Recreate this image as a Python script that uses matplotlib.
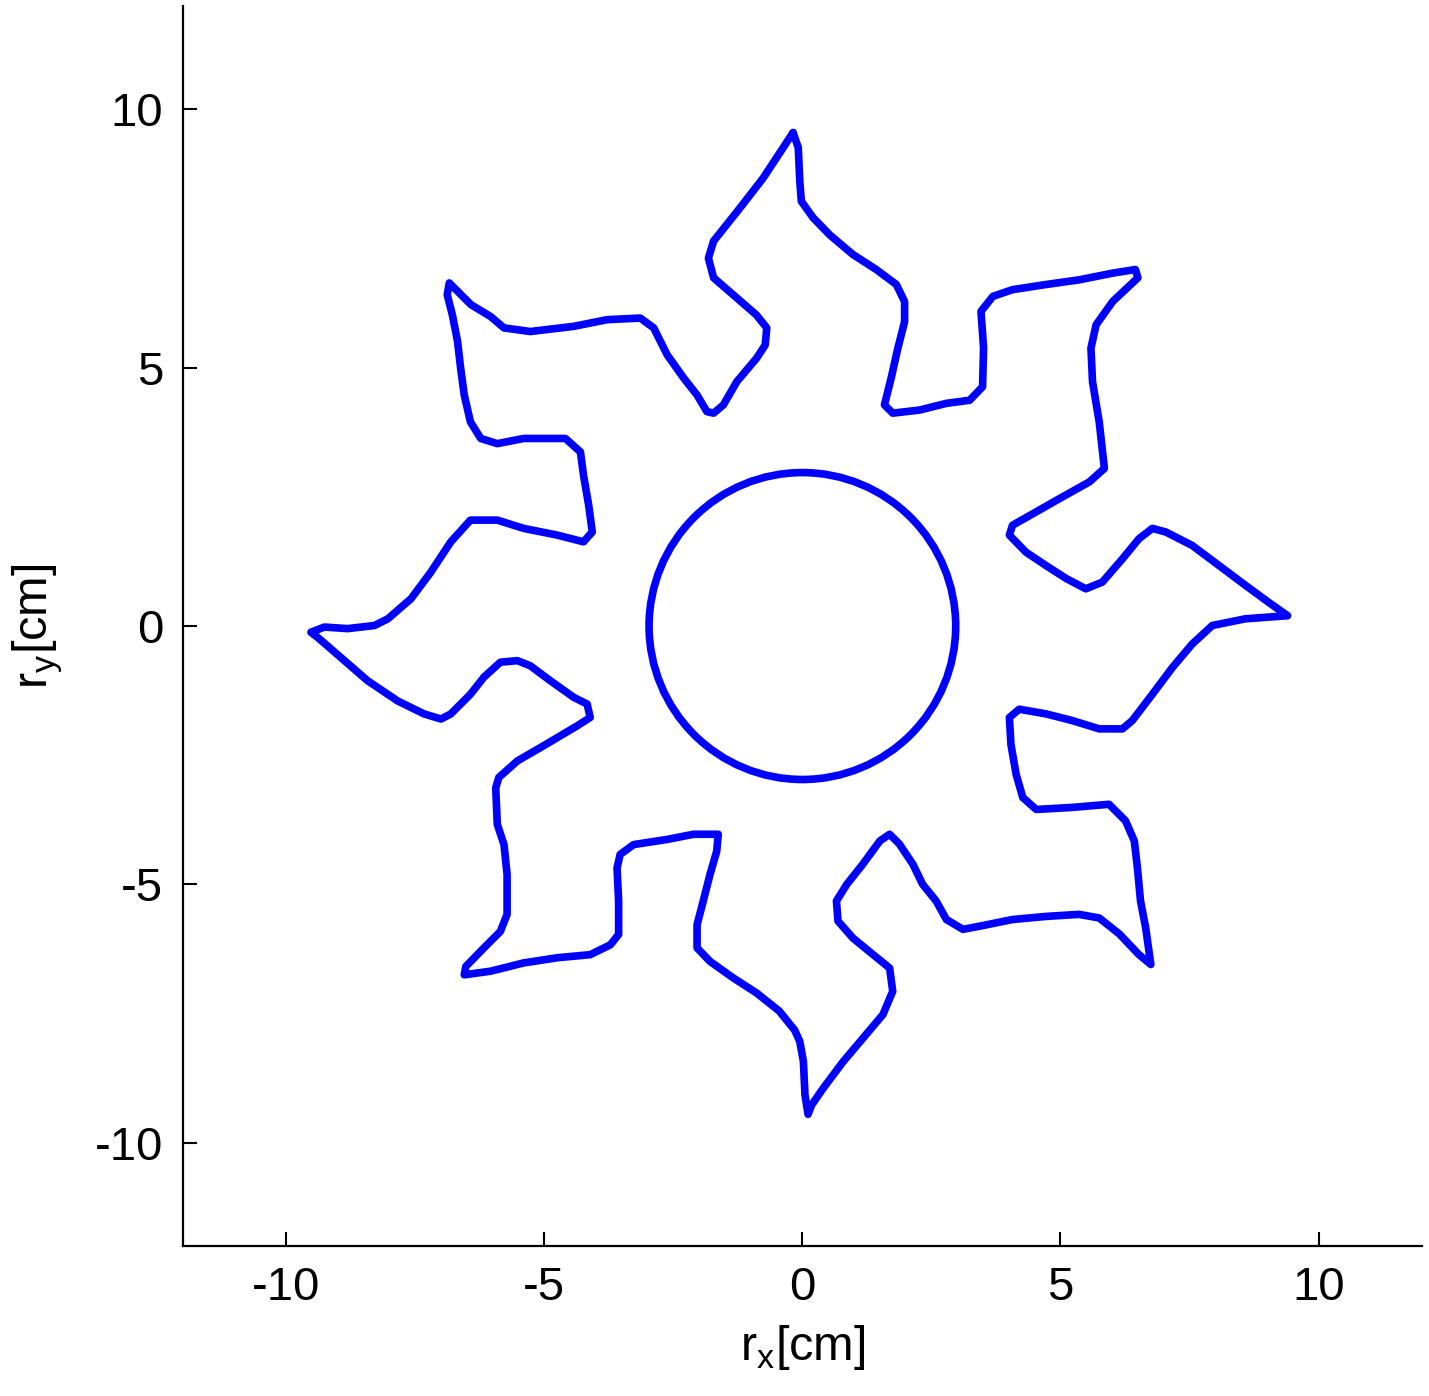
import matplotlib
matplotlib.use("Agg")
import matplotlib.pyplot as plt
from matplotlib.patches import Circle

plt.rcParams['font.family'] = ['Liberation Sans', 'DejaVu Sans']

# outer trajectory (clockwise from the top tip), cm
traj_x = [-0.18, -0.08, -0.05, -0.02, 0.21, 0.53, 0.98, 1.43, 1.82, 1.98, 1.98, 1.85, 1.72, 1.59, 1.75,
          2.27, 2.79, 3.24, 3.49, 3.51, 3.46, 3.69, 4.07, 4.72, 5.36, 6.01, 6.45, 6.50, 6.01, 5.69,
          5.59, 5.62, 5.75, 5.85, 5.56, 5.04, 4.53, 4.07, 4.01, 4.33, 4.72, 5.11, 5.49, 5.81, 6.20,
          6.52, 6.78, 7.04, 7.55, 8.07, 8.58, 9.03, 9.40,
          8.58, 7.94, 7.55, 7.17, 6.78, 6.39, 6.20, 5.75, 5.23, 4.72, 4.20, 4.01, 4.04, 4.14, 4.27,
          4.53, 5.23, 5.94, 6.26, 6.43, 6.49, 6.55, 6.65, 6.75, 6.52, 6.14, 5.75, 5.36, 4.72, 4.07,
          3.43, 3.11, 2.79, 2.59, 2.33, 2.14, 1.88, 1.69, 1.50, 1.17, 0.86, 0.66, 0.69, 0.98, 1.37,
          1.69, 1.75, 1.56, 1.17, 0.79, 0.40, 0.18, 0.11, 0.05, 0.02, -0.05, -0.15, -0.45,
          -0.89, -1.34, -1.79, -2.04, -2.04, -1.92, -1.79, -1.66, -1.63, -2.11, -2.62, -3.27, -3.53,
          -3.59, -3.56, -3.56, -3.72, -4.11, -4.75, -5.40, -6.04, -6.55, -6.52, -6.17, -5.85, -5.72,
          -5.72, -5.78, -5.91, -5.94, -5.88, -5.52, -5.07, -4.75, -4.36, -4.11, -4.17, -4.43, -4.88,
          -5.27, -5.52, -5.85, -6.17, -6.43, -6.81, -7.00, -7.33, -7.84, -8.42, -8.94, -9.39, -9.52,
          -9.26, -8.81, -8.29, -8.03, -7.58, -7.20, -6.81, -6.43, -5.91, -5.40, -4.75, -4.24, -4.07,
          -4.14, -4.24, -4.30, -4.59, -5.40, -5.91, -6.23, -6.43, -6.55, -6.62, -6.68, -6.78, -6.88,
          -6.84, -6.42, -6.04, -5.78, -5.27, -4.43, -3.78, -3.14, -2.88, -2.62, -2.30, -2.04, -1.85,
          -1.72, -1.53, -1.27, -0.89, -0.72, -0.69, -0.89, -1.34, -1.72, -1.82, -1.72, -1.21, -0.76,
          -0.37, -0.18]
traj_y = [9.55, 9.26, 8.61, 8.22, 7.90, 7.57, 7.19, 6.90, 6.61, 6.28, 5.89, 5.38, 4.80, 4.28, 4.12,
          4.18, 4.31, 4.37, 4.63, 5.38, 6.09, 6.38, 6.51, 6.61, 6.70, 6.83, 6.90, 6.74, 6.28, 5.83,
          5.38, 4.73, 3.95, 3.05, 2.79, 2.50, 2.21, 1.95, 1.76, 1.43, 1.17, 0.92, 0.72, 0.85, 1.30,
          1.69, 1.89, 1.82, 1.56, 1.17, 0.79, 0.46, 0.20,
          0.14, 0.01, -0.35, -0.80, -1.32, -1.83, -1.99, -1.99, -1.83, -1.70, -1.61, -1.77, -2.29, -2.87, -3.32,
          -3.55, -3.51, -3.45, -3.77, -4.16, -4.68, -5.32, -5.84, -6.55, -6.36, -5.96, -5.65, -5.58, -5.62, -5.68,
          -5.81, -5.87, -5.68, -5.32, -5.00, -4.61, -4.22, -4.03, -4.16, -4.61, -5.00, -5.32, -5.71, -6.04, -6.36,
          -6.62, -7.07, -7.52, -7.98, -8.43, -8.95, -9.27, -9.45, -9.07, -8.43, -8.04, -7.82, -7.45,
          -7.10, -6.81, -6.49, -6.23, -5.78, -5.32, -4.81, -4.36, -4.03, -4.03, -4.13, -4.23, -4.42,
          -4.68, -5.32, -5.97, -6.17, -6.36, -6.42, -6.52, -6.68, -6.75, -6.59, -6.23, -5.91, -5.58,
          -4.81, -4.23, -3.84, -3.13, -2.93, -2.61, -2.35, -2.16, -1.93, -1.77, -1.51, -1.38, -1.06,
          -0.77, -0.67, -0.70, -0.99, -1.32, -1.70, -1.80, -1.70, -1.45, -1.06, -0.61, -0.22, -0.12,
          -0.02, -0.05, 0.01, 0.14, 0.53, 1.04, 1.63, 2.05, 2.05, 1.89, 1.76, 1.63, 1.82,
          2.34, 2.92, 3.37, 3.63, 3.63, 3.53, 3.63, 3.95, 4.47, 4.99, 5.51, 6.02, 6.41,
          6.64, 6.22, 5.99, 5.77, 5.70, 5.80, 5.93, 5.96, 5.77, 5.25, 4.80, 4.47, 4.15,
          4.12, 4.28, 4.73, 5.18, 5.44, 5.77, 6.02, 6.41, 6.74, 7.12, 7.45, 8.09, 8.67,
          9.26, 9.55]

# inner circle
circle_center = (0.0, 0.0)
circle_radius = 2.97

xticks = [-10, -5, 0, 5, 10]
yticks = [-10, -5, 0, 5, 10]
xlim = (-12, 12)
ylim = (-12, 12)

fig = plt.figure(figsize=(14.29, 13.96), dpi=100)
ax = fig.add_axes([0.128, 0.1074, 0.867, 0.8883])

ax.plot(traj_x, traj_y, color=(0, 0, 1), lw=5.5, solid_joinstyle='round', solid_capstyle='round')
ax.add_patch(Circle(circle_center, circle_radius, fill=False, edgecolor=(0, 0, 1), lw=5.5))

ax.set_xlim(*xlim)
ax.set_ylim(*ylim)
ax.set_xticks(xticks)
ax.set_yticks(yticks)
ax.set_xticklabels([str(t) for t in xticks])
ax.set_yticklabels([str(t) for t in yticks])

for s in ['top', 'right']:
    ax.spines[s].set_visible(False)
for s in ['left', 'bottom']:
    ax.spines[s].set_linewidth(1.6)
    ax.spines[s].set_color('black')

ax.tick_params(direction='in', length=10, width=1.5, labelsize=34, pad=14, colors='black')
ax.set_xlabel(r'r$_\mathregular{x}$[cm]', fontsize=35, labelpad=10)
ax.set_ylabel(r'r$_\mathregular{y}$[cm]', fontsize=35, labelpad=22)

fig.savefig('out.png', dpi=100)
